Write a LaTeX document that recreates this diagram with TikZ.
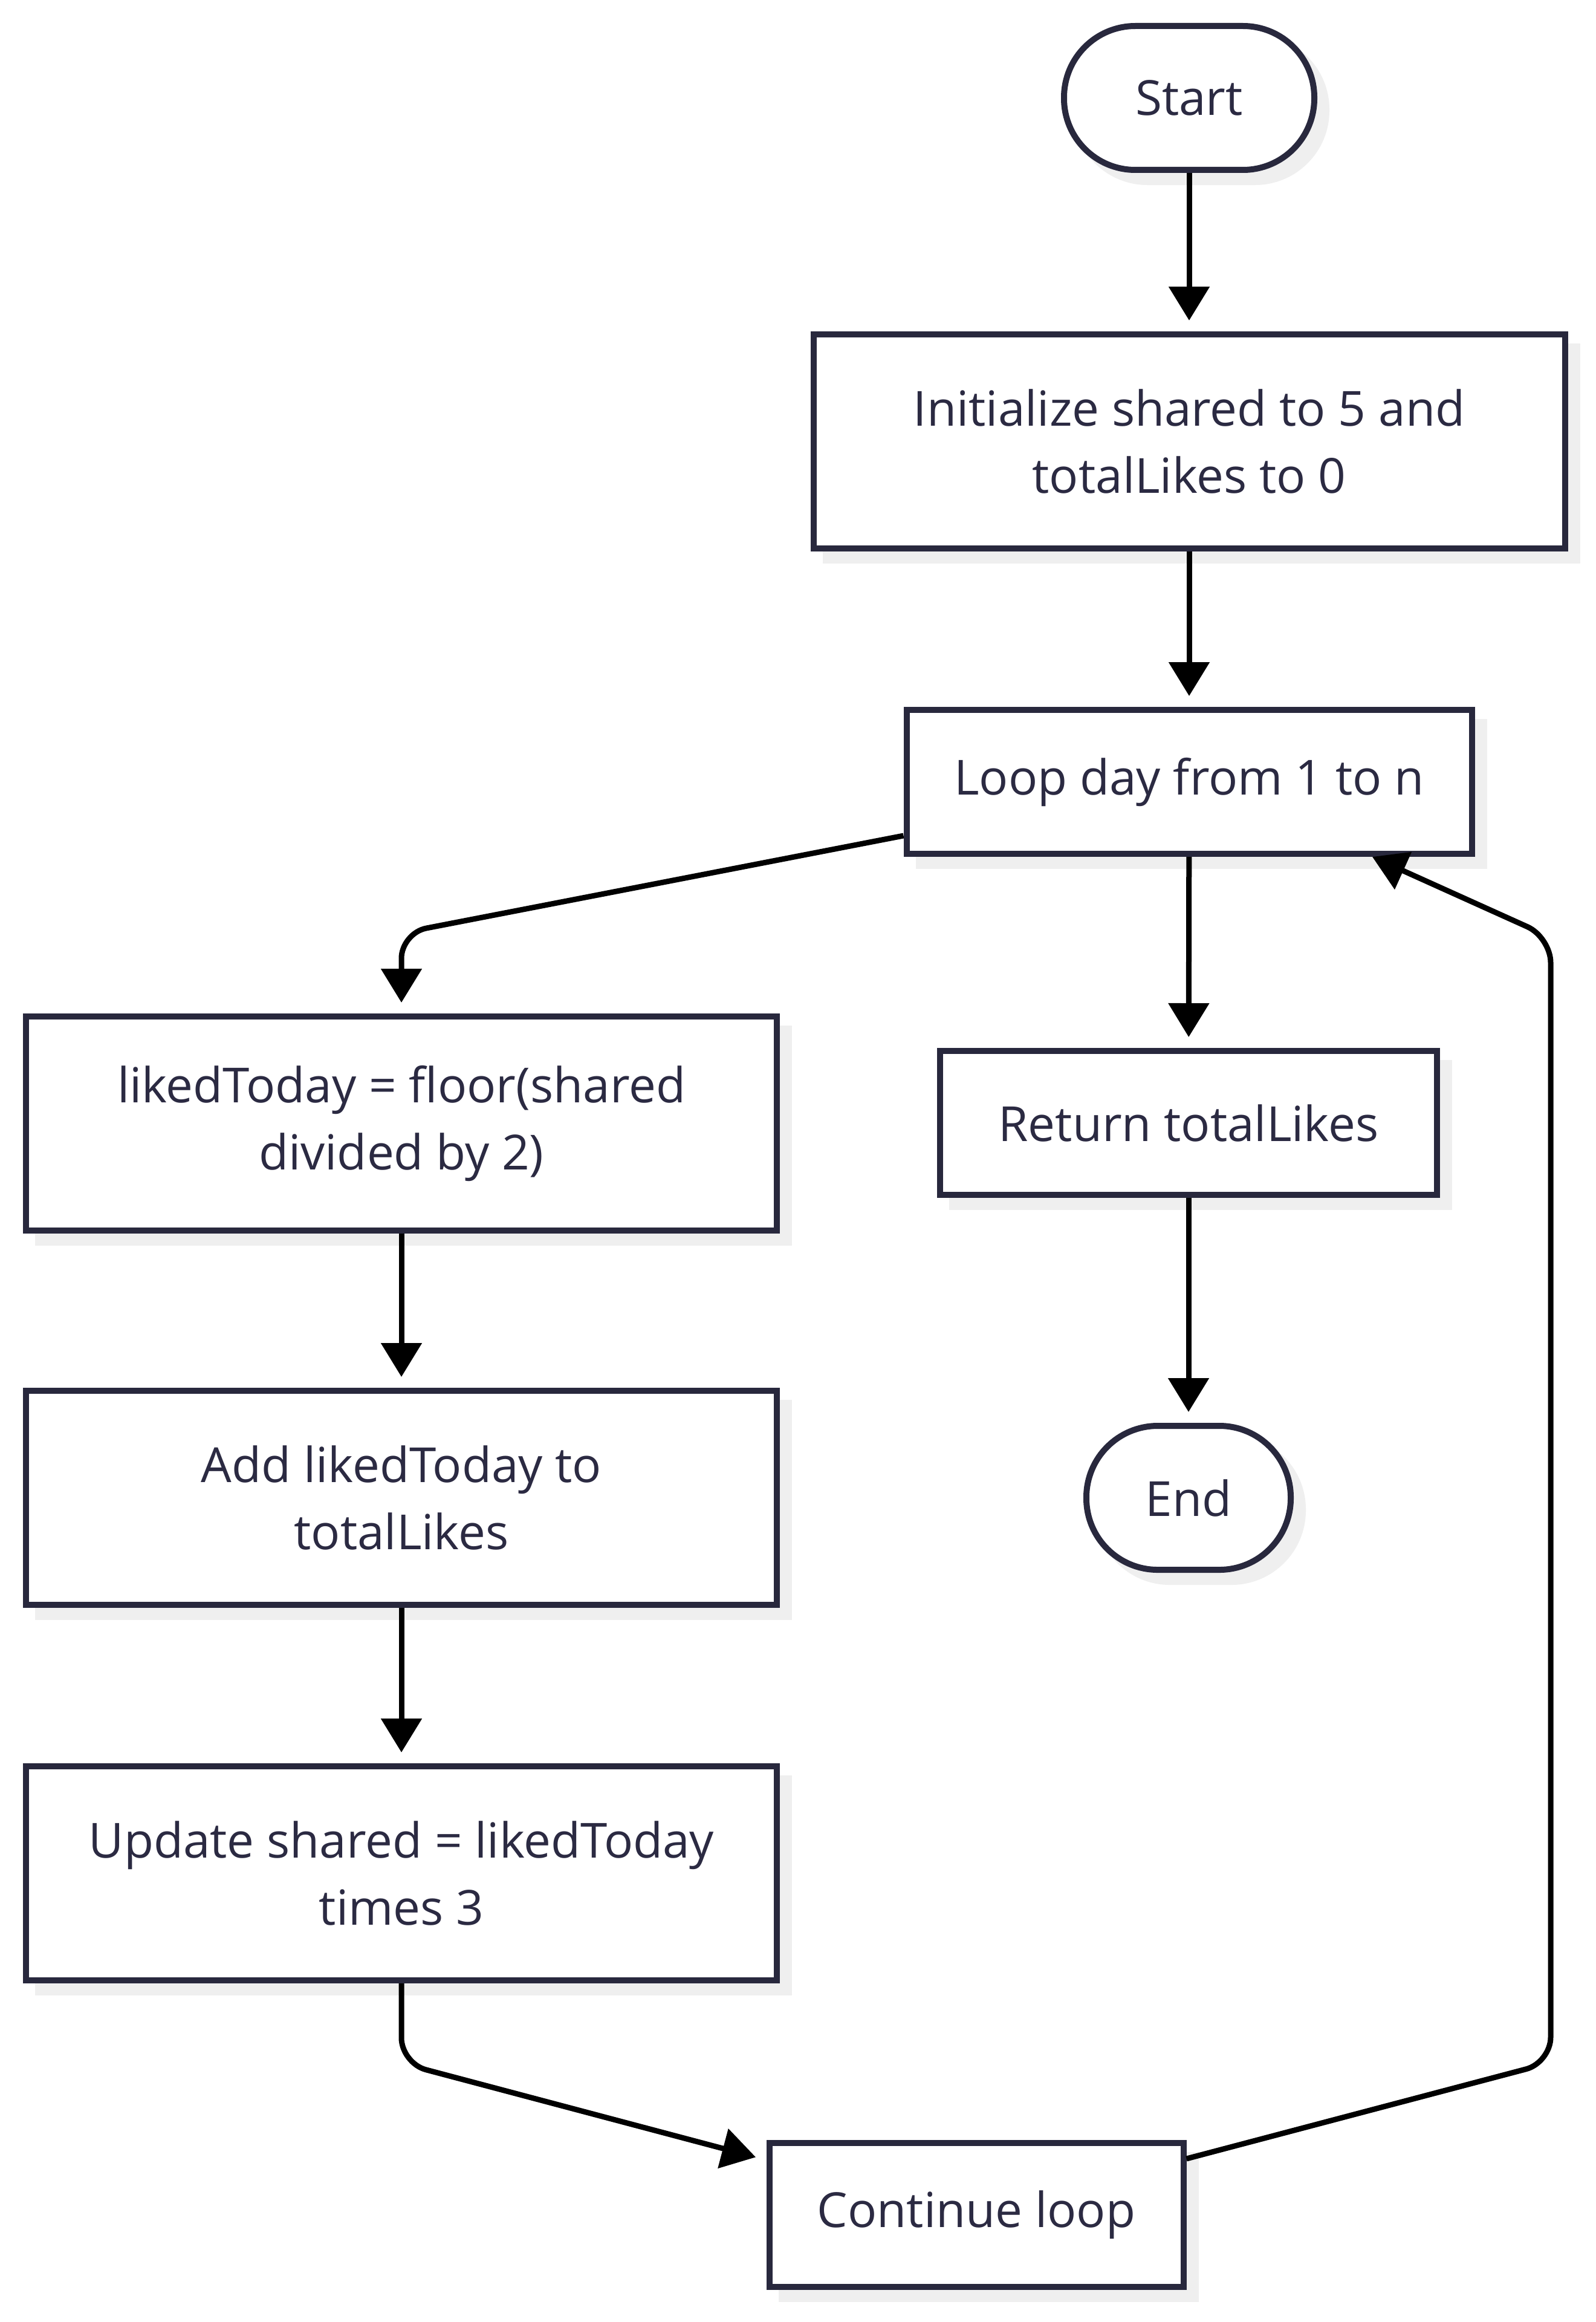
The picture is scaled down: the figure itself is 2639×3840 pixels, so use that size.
\documentclass[tikz,border=0pt]{standalone}
\usepackage{fontspec}
\setmainfont{Open Sans}
\usetikzlibrary{arrows.meta,calc,shadows}
\definecolor{ink}{HTML}{28283D}
\definecolor{txt}{HTML}{2B2A42}
\definecolor{shade}{HTML}{EFEFEF}
\begin{document}
\begin{tikzpicture}[x=1pt,y=-1pt,
  base/.style={draw=ink, line width=10pt, fill=white, text=txt,
    font=\fontsize{80}{111}\selectfont, align=center, inner sep=0pt,
    drop shadow={shadow xshift=20pt, shadow yshift=-20pt, fill=shade, draw=shade, opacity=1}},
  proc/.style={base, rectangle},
  term/.style={base, rounded corners=118pt},
  flow/.style={draw=black, line width=9pt, -{Triangle[length=56pt,width=66pt]},
    shorten >=18pt, rounded corners=42pt}
]
\fill[white] (0,0) rectangle (2639,3840);

\node[term, minimum width=414pt, minimum height=238pt] (start) at (1967,162) {Start};
\node[proc, minimum width=1243pt, minimum height=354pt] (init) at (1967,730) {Initialize shared to 5 and\\totalLikes to 0};
\node[proc, minimum width=935pt, minimum height=238pt] (loop) at (1967,1293) {Loop day from 1 to n};
\node[proc, minimum width=1242pt, minimum height=354pt] (liked) at (664,1858) {likedToday = floor(shared\\divided by 2)};
\node[proc, minimum width=822pt, minimum height=238pt] (ret) at (1966,1857) {Return totalLikes};
\node[term, minimum width=338pt, minimum height=238pt] (end) at (1966,2477) {End};
\node[proc, minimum width=1242pt, minimum height=354pt] (add) at (664,2477) {Add likedToday to\\totalLikes};
\node[proc, minimum width=1242pt, minimum height=354pt] (upd) at (664,3098) {Update shared = likedToday\\times 3};
\node[proc, minimum width=685pt, minimum height=238pt] (cont) at (1615,3663) {Continue loop};

\draw[flow] (start) -- (init);
\draw[flow] (init) -- (loop);
\draw[flow] ($(loop.west)+(0,89)$) -- (664,1543) -- (liked.north);
\draw[flow] (loop) -- (ret);
\draw[flow] (ret) -- (end);
\draw[flow] (liked) -- (add);
\draw[flow] (add) -- (upd);
\draw[flow] (upd.south) -- (664,3412) -- ($(cont.west)+(0,-91)$);
\draw[flow, shorten >=0pt] ($(cont.east)+(0,-93)$) -- (2565,3411) -- (2565,1550) -- ($(loop.south)+(303,0)$);
\end{tikzpicture}
\end{document}
